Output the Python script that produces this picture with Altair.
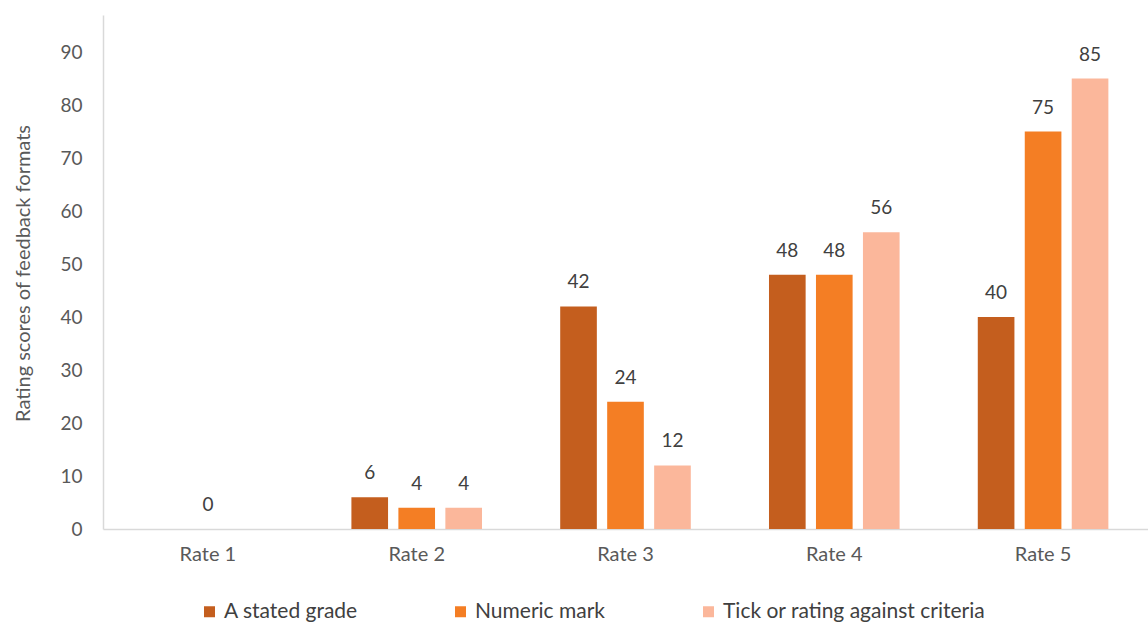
import altair as alt
import pandas as pd

# Rating categories and the three feedback formats
rates = ["Rate 1", "Rate 2", "Rate 3", "Rate 4", "Rate 5"]
formats = ["A stated grade", "Numeric mark", "Tick or rating against criteria"]
colors = ["#C45E1E", "#F47E24", "#FBB79B"]

# Scores per format (None = no entry for that rate)
stated_grade = [None, 6, 42, 48, 40]
numeric_mark = [0, 4, 24, 48, 75]
tick_rating = [None, 4, 12, 56, 85]

y_ticks = [0, 10, 20, 30, 40, 50, 60, 70, 80, 90]

rows = []
for fmt, vals in zip(formats, [stated_grade, numeric_mark, tick_rating]):
    for rate, v in zip(rates, vals):
        if v is not None:
            rows.append({"rate": rate, "format": fmt, "score": v})
df = pd.DataFrame(rows)

FONT = "Lato"
GREY_TEXT = "#595959"
DARK_TEXT = "#404040"
AXIS_GREY = "#D9D9D9"

x_enc = alt.X(
    "rate:N",
    sort=rates,
    scale=alt.Scale(paddingInner=0.325, paddingOuter=0.165),
    axis=alt.Axis(
        title=None,
        labelAngle=0,
        labelFont=FONT,
        labelFontSize=20,
        labelColor=GREY_TEXT,
        labelPadding=15,
        ticks=False,
        domainColor=AXIS_GREY,
        domainWidth=1.5,
        grid=False,
    ),
)
x_off = alt.XOffset(
    "format:N",
    sort=formats,
    scale=alt.Scale(paddingInner=0.22, paddingOuter=0.11),
)
y_enc = alt.Y(
    "score:Q",
    scale=alt.Scale(domain=[0, 97], nice=False),
    axis=alt.Axis(
        title="Rating scores of feedback formats",
        titleFont=FONT,
        titleFontSize=20,
        titleFontWeight="normal",
        titleColor=GREY_TEXT,
        titleX=-70,
        titleY=258,
        values=y_ticks,
        labelFont=FONT,
        labelFontSize=19,
        labelColor=GREY_TEXT,
        labelPadding=21,
        ticks=False,
        domainColor=AXIS_GREY,
        domainWidth=1.5,
        grid=False,
    ),
)

bars = alt.Chart(df).mark_bar().encode(
    x=x_enc,
    xOffset=x_off,
    y=y_enc,
    color=alt.Color(
        "format:N",
        sort=formats,
        scale=alt.Scale(domain=formats, range=colors),
        legend=alt.Legend(
            title=None,
            orient="none",
            direction="horizontal",
            legendX=96,
            legendY=586,
            symbolType="square",
            symbolSize=121,
            symbolStrokeWidth=0,
            symbolOpacity=1,
            labelFont=FONT,
            labelFontSize=21,
            labelColor=DARK_TEXT,
            labelOffset=4,
            labelLimit=400,
            columnPadding=92,
        ),
    ),
)

labels = alt.Chart(df).mark_text(
    font=FONT, fontSize=19, color=DARK_TEXT, baseline="alphabetic", dy=-18
).encode(
    x=alt.X("rate:N", sort=rates),
    xOffset=alt.XOffset("format:N", sort=formats),
    y=alt.Y("score:Q"),
    text=alt.Text("score:Q"),
)

chart = (
    alt.layer(bars, labels)
    .properties(
        width=1045,
        height=514,
        autosize=alt.AutoSizeParams(type="none"),
        padding={"left": 103, "top": 15, "right": 0, "bottom": 95},
        background="white",
    )
    .configure_view(stroke=None)
)

chart.save("out.html", embed_options={"renderer": "svg", "actions": False})
